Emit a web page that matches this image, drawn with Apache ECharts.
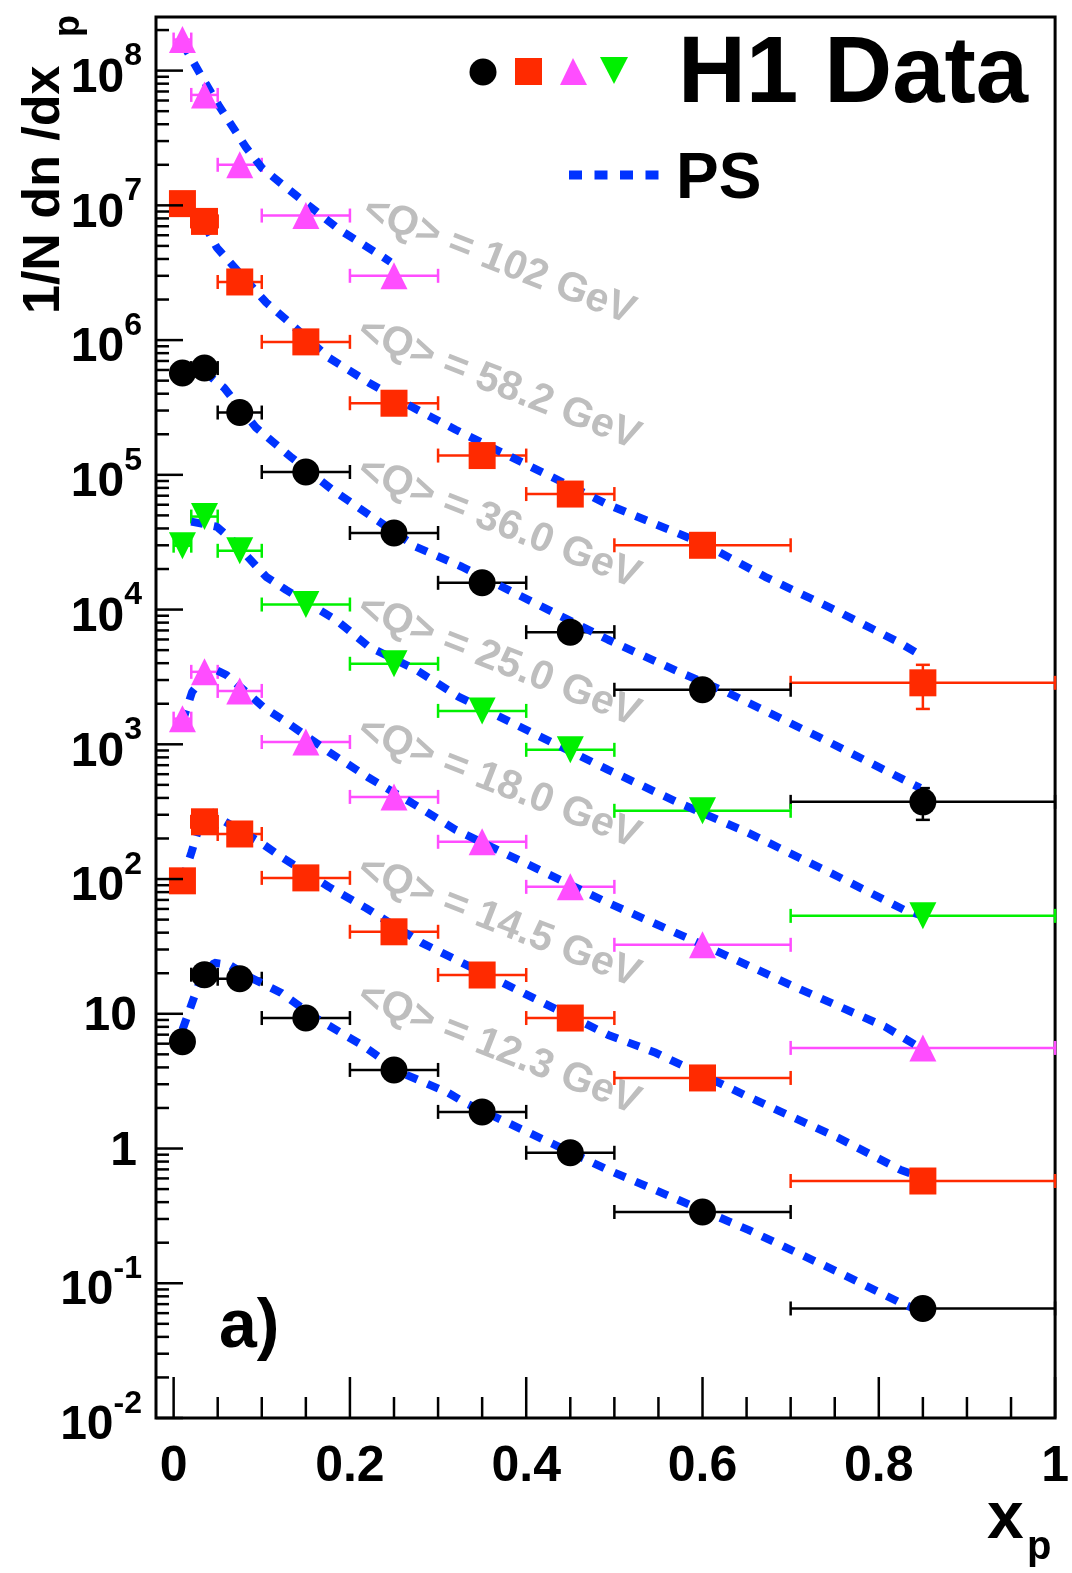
<!DOCTYPE html>
<html>
<head>
<meta charset="utf-8">
<script src="https://cdn.jsdelivr.net/npm/echarts@6/dist/echarts.min.js"></script>
<style>
html, body { margin: 0; padding: 0; background: #fff; }
#chart { width: 1072px; height: 1573px; }
</style>
</head>
<body>
<div id="chart"></div>
<script>
// x_p bins
const xCenters = [0.01, 0.035, 0.075, 0.15, 0.25, 0.35, 0.45, 0.6, 0.85]
const xLow = [0, 0.02, 0.05, 0.1, 0.2, 0.3, 0.4, 0.5, 0.7]
const xHigh = [0.02, 0.05, 0.1, 0.2, 0.3, 0.4, 0.5, 0.7, 1.0]

// H1 data, 1/N dn/dx_p (scaled per <Q> bin)
const q102 = [1.70e8, 6.6e7, 2.0e7, 8.4e6, 3.0e6]
const q58 = [1.03e7, 7.6e6, 2.7e6, 9.7e5, 3.4e5, 1.39e5, 7.2e4, 3.0e4, 2.86e3]
const q36 = [5.7e5, 6.2e5, 2.9e5, 1.05e5, 3.7e4, 1.58e4, 6.8e3, 2.54e3, 374]
const q25 = [2.98e4, 4.9e4, 2.73e4, 1.09e4, 3.96e3, 1.77e3, 910, 321, 53.3]
const q18 = [1.55e3, 3.45e3, 2.49e3, 1.04e3, 407, 189, 87.5, 32.5, 5.58]
const q14 = [97, 266, 216, 102, 40.6, 19.4, 9.3, 3.34, 0.574]
const q12 = [6.2, 19.5, 18.2, 9.3, 3.83, 1.87, 0.93, 0.338, 0.065]
// vertical errors that stick out of the markers (last bin)
const q58ErrLast = [1830, 3890]
const q36ErrLast = [275, 473]

// PS prediction curves
const ps102X = [0.01, 0.037, 0.052, 0.082, 0.1, 0.145, 0.188, 0.236, 0.246]
const ps102Y = [1.6e8, 7.9e7, 5.4e7, 2.7e7, 1.9e7, 1.1e7, 6.6e6, 4.2e6, 3.8e6]
const ps58X = [0.035, 0.049, 0.105, 0.1275, 0.176, 0.2215, 0.27, 0.32, 0.493, 0.601, 0.671, 0.75, 0.824, 0.847]
const ps58Y = [7.2e6, 4.85e6, 1.9e6, 1.42e6, 7.4e5, 4.83e5, 3.2e5, 2.16e5, 6.0e4, 3.08e4, 1.75e4, 9.95e3, 5.66e3, 4.61e3]
const ps36X = [0.035, 0.057, 0.0935, 0.134, 0.18, 0.225, 0.275, 0.327, 0.493, 0.573, 0.629, 0.731, 0.833, 0.847]
const ps36Y = [5.8e5, 4.44e5, 2.24e5, 1.34e5, 7.75e4, 4.89e4, 2.92e4, 2.08e4, 5.97e3, 3.45e3, 2.41e3, 1.14e3, 527, 475]
const ps25X = [0.02, 0.049, 0.066, 0.105, 0.1275, 0.184, 0.2215, 0.275, 0.3235, 0.493, 0.573, 0.652, 0.754, 0.829, 0.847]
const ps25Y = [4.5e4, 4.12e4, 3.3e4, 1.75e4, 1.4e4, 8.39e3, 5.3e3, 3.57e3, 2.25e3, 647, 368, 220, 104, 59, 54.2]
const ps18X = [0.01, 0.021, 0.0426, 0.0596, 0.1026, 0.1275, 0.176, 0.2215, 0.27, 0.32, 0.493, 0.601, 0.705, 0.8075, 0.847]
const ps18Y = [1.47e3, 2.45e3, 3.7e3, 3.28e3, 1.87e3, 1.47e3, 879, 564, 368, 232, 66.5, 32.4, 15.8, 8.0, 5.58]
const ps14X = [0.01, 0.02, 0.029, 0.0426, 0.049, 0.099, 0.122, 0.176, 0.218, 0.2815, 0.493, 0.547, 0.652, 0.754, 0.825, 0.847]
const ps14Y = [98.6, 156, 244, 315, 290, 186, 146, 87.5, 61.1, 33.6, 6.97, 5.13, 2.42, 1.2, 0.693, 0.615]
const ps12X = [0.01, 0.02, 0.029, 0.046, 0.063, 0.0856, 0.122, 0.161, 0.2135, 0.259, 0.3115, 0.331, 0.493, 0.573, 0.652, 0.754, 0.825, 0.847]
const ps12Y = [7.59, 11.6, 16.9, 23.9, 23.1, 18.8, 14.3, 9.33, 5.87, 3.64, 2.59, 2.18, 0.693, 0.415, 0.249, 0.121, 0.0714, 0.062]

// axes
const xLabelValues = [0, 0.2, 0.4, 0.6, 0.8, 1]
const yLabelValues = [1e-2, 1e-1, 1, 10, 1e2, 1e3, 1e4, 1e5, 1e6, 1e7, 1e8]
const qLabels = ['<Q> = 102 GeV', '<Q> = 58.2 GeV', '<Q> = 36.0 GeV', '<Q> = 25.0 GeV', '<Q> = 18.0 GeV', '<Q> = 14.5 GeV', '<Q> = 12.3 GeV']

const X_MIN = -0.02, X_MAX = 1, Y_MIN = 0.01, Y_MAX = 2.5e8
const FONT = "'Liberation Sans', Arial, Helvetica, sans-serif"
const BLACK = '#000000', RED = '#ff2a00', MAGENTA = '#ff4dff', GREEN = '#00f000', BLUE = '#0033ff', GREY = '#bebebe'

let myChart = echarts.init(document.getElementById('chart'), null, { renderer: 'canvas' })

// tick marks: kind 0 x major, 1 x minor, 2 y major, 3 y minor
let tickData = []
xLabelValues.forEach(v => tickData.push([v, Y_MIN, 0]))
for (let i = 1; i < 20; i++) {
    if (i % 4) tickData.push([i * 0.05, Y_MIN, 1])
}
yLabelValues.forEach(v => tickData.push([X_MIN, v, 2]))
for (let e = -2; e <= 8; e++) {
    for (let m = 2; m <= 9; m++) {
        let v = m * Math.pow(10, e)
        if (v < Y_MAX) tickData.push([X_MIN, v, 3])
    }
}

function renderTick(params, api) {
    let kind = api.value(2)
    let p = api.coord([api.value(0), api.value(1)])
    let shape
    if (kind < 2) {
        let len = kind === 0 ? 41 : 21
        shape = { x1: p[0], y1: p[1], x2: p[0], y2: p[1] - len }
    } else {
        let len = kind === 2 ? 27 : 13
        shape = { x1: p[0], y1: p[1], x2: p[0] + len, y2: p[1] }
    }
    return { type: 'line', shape: shape, style: { stroke: BLACK, lineWidth: 2.5 } }
}

function errorSeries(vals, color, errLast) {
    let data = vals.map((v, i) => [xCenters[i], v, xLow[i], xHigh[i], 0, 0])
    if (errLast) {
        data[data.length - 1][4] = errLast[0]
        data[data.length - 1][5] = errLast[1]
    }
    return {
        type: 'custom',
        data: data,
        encode: { x: 0, y: 1 },
        z: 2,
        silent: true,
        renderItem: function (params, api) {
            let y = api.value(1)
            let pl = api.coord([api.value(2), y])
            let pr = api.coord([api.value(3), y])
            let cap = 7
            let st = { stroke: color, lineWidth: 2.5 }
            let children = [
                { type: 'line', shape: { x1: pl[0], y1: pl[1], x2: pr[0], y2: pr[1] }, style: st },
                { type: 'line', shape: { x1: pl[0], y1: pl[1] - cap, x2: pl[0], y2: pl[1] + cap }, style: st },
                { type: 'line', shape: { x1: pr[0], y1: pr[1] - cap, x2: pr[0], y2: pr[1] + cap }, style: st }
            ]
            if (api.value(4) > 0) {
                let pb = api.coord([api.value(0), api.value(4)])
                let pt = api.coord([api.value(0), api.value(5)])
                children.push({ type: 'line', shape: { x1: pb[0], y1: pb[1], x2: pt[0], y2: pt[1] }, style: st })
                children.push({ type: 'line', shape: { x1: pb[0] - cap, y1: pb[1], x2: pb[0] + cap, y2: pb[1] }, style: st })
                children.push({ type: 'line', shape: { x1: pt[0] - cap, y1: pt[1], x2: pt[0] + cap, y2: pt[1] }, style: st })
            }
            return { type: 'group', children: children }
        }
    }
}

function markerSeries(vals, color, symbol, rotate) {
    return {
        type: 'scatter',
        data: vals.map((v, i) => [xCenters[i], v]),
        symbol: symbol,
        symbolSize: 27,
        symbolRotate: rotate || 0,
        itemStyle: { color: color, opacity: 1 },
        z: 4,
        silent: true
    }
}

function psSeries(xs, ys) {
    return {
        type: 'line',
        data: xs.map((x, i) => [x, ys[i]]),
        showSymbol: false,
        symbol: 'none',
        lineStyle: { color: BLUE, width: 8, type: [12, 11], cap: 'butt' },
        z: 3,
        silent: true
    }
}

function yLabel(v) {
    let e = Math.round(Math.log10(v))
    if (Math.abs(Math.log10(v) - e) > 1e-6) return ''
    if (e === 0) return '{c|1}'
    if (e === 1) return '{c|10}'
    return '{b|10}{s|' + e + '}'
}

let textLabels = qLabels.map((t, i) => ({
    type: 'text',
    x: 499,
    y: [261, 384, 523, 661, 783, 922, 1049][i],
    rotation: -21.5 * Math.PI / 180,
    style: { text: t, fill: GREY, font: 'bold 41px ' + FONT, align: 'center', verticalAlign: 'middle' },
    z: 1
}))

let option = {
    animation: false,
    backgroundColor: '#ffffff',
    grid: {
        left: 156, top: 17, width: 903, height: 1401,
        show: true, borderColor: BLACK, borderWidth: 3, backgroundColor: 'transparent'
    },
    xAxis: {
        type: 'value',
        min: X_MIN,
        max: X_MAX,
        axisLine: { show: false },
        axisTick: { show: false },
        splitLine: { show: false },
        axisLabel: {
            customValues: xLabelValues,
            margin: 24,
            fontFamily: FONT,
            fontWeight: 'bold',
            fontSize: 50,
            color: BLACK,
            formatter: function (v) {
                if (Math.abs(v) < 1e-9) return '0'
                if (Math.abs(v - 1) < 1e-9) return '1'
                return v.toFixed(1)
            }
        }
    },
    yAxis: {
        type: 'log',
        logBase: 10,
        min: Y_MIN,
        max: Y_MAX,
        axisLine: { show: false },
        axisTick: { show: false },
        splitLine: { show: false },
        axisLabel: {
            customValues: yLabelValues,
            margin: 14,
            color: BLACK,
            formatter: yLabel,
            rich: {
                b: { fontFamily: FONT, fontWeight: 'bold', fontSize: 48, lineHeight: 64, verticalAlign: 'bottom' },
                s: { fontFamily: FONT, fontWeight: 'bold', fontSize: 32, verticalAlign: 'top', padding: [2, 0, 0, 0] },
                c: { fontFamily: FONT, fontWeight: 'bold', fontSize: 48, padding: [6, 5, 0, 0] }
            }
        }
    },
    graphic: textLabels.concat([
        // legend
        { type: 'circle', shape: { cx: 483, cy: 72, r: 13.5 }, style: { fill: BLACK } },
        { type: 'rect', shape: { x: 515, y: 58, width: 27, height: 27 }, style: { fill: RED } },
        { type: 'polygon', shape: { points: [[573, 58], [560, 85], [587, 85]] }, style: { fill: MAGENTA } },
        { type: 'polygon', shape: { points: [[600, 57], [628, 57], [614, 84]] }, style: { fill: GREEN } },
        { type: 'text', x: 678, y: 76, style: { text: 'H1 Data', fill: BLACK, font: 'bold 94px ' + FONT, align: 'left', verticalAlign: 'middle' } },
        { type: 'line', shape: { x1: 569, y1: 175, x2: 659, y2: 175 }, style: { stroke: BLUE, lineWidth: 9, lineDash: [13, 12.5] } },
        { type: 'text', x: 676, y: 180, style: { text: 'PS', fill: BLACK, font: 'bold 64px ' + FONT, align: 'left', verticalAlign: 'middle' } },
        // panel tag
        { type: 'text', x: 219, y: 1328, style: { text: 'a)', fill: BLACK, font: 'bold 68px ' + FONT, align: 'left', verticalAlign: 'middle' } },
        // axis titles
        { type: 'text', x: 987, y: 1520, style: { text: 'x', fill: BLACK, font: 'bold 66px ' + FONT, align: 'left', verticalAlign: 'middle' } },
        { type: 'text', x: 1027, y: 1548, style: { text: 'p', fill: BLACK, font: 'bold 40px ' + FONT, align: 'left', verticalAlign: 'middle' } },
        { type: 'text', x: 45, y: 314, rotation: Math.PI / 2, style: { text: '1/N dn /dx', fill: BLACK, font: 'bold 52px ' + FONT, align: 'left', verticalAlign: 'middle' } },
        { type: 'text', x: 69, y: 37, rotation: Math.PI / 2, style: { text: 'p', fill: BLACK, font: 'bold 36px ' + FONT, align: 'left', verticalAlign: 'middle' } }
    ]),
    series: [
        { type: 'custom', data: tickData, encode: { x: 0, y: 1 }, renderItem: renderTick, z: 5, silent: true },
        errorSeries(q102, MAGENTA),
        errorSeries(q58, RED, q58ErrLast),
        errorSeries(q36, BLACK, q36ErrLast),
        errorSeries(q25, GREEN),
        errorSeries(q18, MAGENTA),
        errorSeries(q14, RED),
        errorSeries(q12, BLACK),
        psSeries(ps102X, ps102Y),
        psSeries(ps58X, ps58Y),
        psSeries(ps36X, ps36Y),
        psSeries(ps25X, ps25Y),
        psSeries(ps18X, ps18Y),
        psSeries(ps14X, ps14Y),
        psSeries(ps12X, ps12Y),
        markerSeries(q102, MAGENTA, 'triangle'),
        markerSeries(q58, RED, 'rect'),
        markerSeries(q36, BLACK, 'circle'),
        markerSeries(q25, GREEN, 'triangle', 180),
        markerSeries(q18, MAGENTA, 'triangle'),
        markerSeries(q14, RED, 'rect'),
        markerSeries(q12, BLACK, 'circle')
    ]
}
myChart.setOption(option, true)
</script>
</body>
</html>
